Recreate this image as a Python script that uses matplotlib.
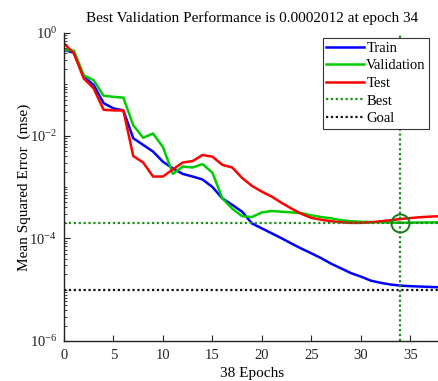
import numpy as np
import matplotlib
matplotlib.use("Agg")
import matplotlib.pyplot as plt
from matplotlib.ticker import LogLocator, NullFormatter, MultipleLocator

plt.rcParams['font.family'] = ['Liberation Serif', 'DejaVu Serif']
plt.rcParams['mathtext.fontset'] = 'custom'
plt.rcParams['mathtext.rm'] = 'Liberation Serif'

# Training record (mse per epoch)
epochs = list(range(0, 39))
train = [0.47, 0.41, 0.14, 0.097, 0.043, 0.034, 0.031, 0.0089, 0.0066, 0.0049,
         0.0031, 0.0023, 0.0018, 0.0016, 0.0014, 0.0010, 0.00060, 0.00045, 0.00033, 0.000195,
         0.000156, 0.000125, 0.000100, 0.000079, 0.000063, 0.000051, 0.000041, 0.000032, 0.000026, 0.000021,
         0.000018, 0.000015, 0.0000136, 0.0000126, 0.0000120, 0.0000117, 0.0000115, 0.0000113, 0.0000111]
validation = [0.47, 0.45, 0.15, 0.12, 0.060, 0.057, 0.055, 0.016, 0.0091, 0.011,
              0.0060, 0.0018, 0.0025, 0.0024, 0.0028, 0.0019, 0.00060, 0.00038, 0.00027, 0.00026,
              0.00032, 0.00034, 0.00033, 0.00032, 0.00031, 0.00028, 0.00026, 0.000245, 0.000225, 0.000215,
              0.00021, 0.000207, 0.000205, 0.000203, 0.0002012, 0.000202, 0.000203, 0.000204, 0.000205]
test = [0.63, 0.40, 0.13, 0.083, 0.032, 0.031, 0.031, 0.0040, 0.0030, 0.0016,
        0.0016, 0.0022, 0.0030, 0.0032, 0.0042, 0.0039, 0.0027, 0.0024, 0.0015, 0.00105,
        0.00081, 0.00065, 0.00049, 0.00038, 0.00030, 0.00025, 0.00023, 0.000215, 0.000205, 0.000200,
        0.000200, 0.000205, 0.000215, 0.000225, 0.000238, 0.000248, 0.000258, 0.000265, 0.000270]
best_epoch = 34
best_perf = 0.0002012
goal = 1e-5

fig = plt.figure(figsize=(4.38, 3.81), dpi=100)
ax = fig.add_axes([64 / 438, 40 / 381, 376 / 438, 308 / 381])

ax.plot(epochs, train, color='#0000ff', lw=1.8, label='Train')
ax.plot(epochs, validation, color='#00cc00', lw=1.8, label='Validation')
ax.plot(epochs, test, color='#ff0000', lw=1.8, label='Test')
ax.axhline(best_perf, color='#1a8f1a', lw=1.6, ls=(0, (1, 1.2)), label='Best')
ax.axvline(best_epoch, color='#1a8f1a', lw=1.6, ls=(0, (1, 1.2)))
ax.axhline(goal, color='#111111', lw=1.6, ls=(0, (1, 1.2)), label='Goal')
ax.plot([best_epoch], [best_perf], 'o', ms=13, mfc='none', mec='#1a7a1a', mew=1.4)

ax.set_yscale('log')
ax.set_xlim(0, 38)
ax.set_ylim(1e-6, 1e0)
ax.xaxis.set_major_locator(MultipleLocator(5))
ax.yaxis.set_major_locator(LogLocator(base=100, numticks=10))
ax.yaxis.set_minor_locator(LogLocator(base=10, subs=np.arange(1, 10), numticks=20))
ax.yaxis.set_minor_formatter(NullFormatter())

for side in ('top', 'right'):
    ax.spines[side].set_visible(False)
for side in ('left', 'bottom'):
    ax.spines[side].set_color('#222222')
    ax.spines[side].set_linewidth(1.0)
ax.tick_params(direction='in', which='both', labelsize=10.5, colors='#222222')
ax.tick_params(which='major', length=4)
ax.tick_params(which='minor', length=2)
ax.tick_params(axis='x', pad=6)
ax.tick_params(axis='y', pad=5)

ax.set_title('Best Validation Performance is 0.0002012 at epoch 34', fontsize=11, pad=8)
ax.set_xlabel('38 Epochs', fontsize=11, labelpad=3)
ax.set_ylabel('Mean Squared Error  (mse)', fontsize=11, labelpad=-1)

leg = ax.legend(loc='upper right', bbox_to_anchor=(0.972, 0.984), borderaxespad=0,
                fancybox=False, framealpha=1, edgecolor='#333333', fontsize=10.5,
                handlelength=2.6, handletextpad=0.15, labelspacing=0.3, borderpad=0.25)
leg.get_frame().set_linewidth(0.8)

fig.savefig('out.png', dpi=100)
